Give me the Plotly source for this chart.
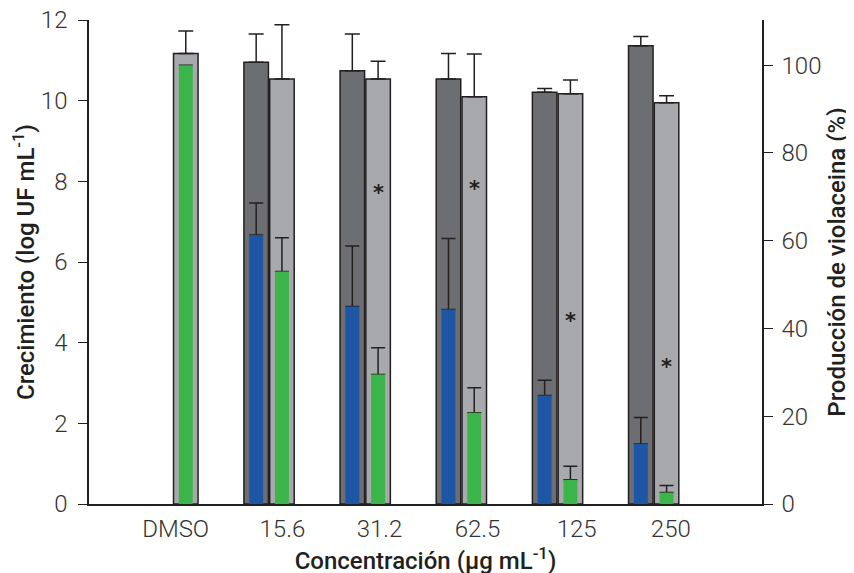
import plotly.graph_objects as go

categories = ["DMSO", "15.6", "31.2", "62.5", "125", "250"]
x_pos = [0, 1, 2, 3, 4, 5]
label_nudge = [0.03, 0.14, 0.15, 0.17, 0.2, 0.18]

growth_dark = [None, 10.95, 10.74, 10.54, 10.21, 11.36]
growth_dark_err = [None, 0.70, 0.91, 0.63, 0.09, 0.23]
growth_light = [11.17, 10.54, 10.54, 10.10, 10.17, 9.95]
growth_light_err = [0.56, 1.34, 0.44, 1.06, 0.34, 0.17]

viol_blue = [None, 61.3, 45.0, 44.3, 24.7, 13.7]
viol_blue_err = [None, 7.3, 13.8, 16.2, 3.5, 6.0]
viol_green = [100.0, 53.0, 29.5, 20.8, 5.5, 2.6]
viol_green_err = [None, 7.7, 6.1, 5.7, 3.1, 1.6]

sig_y = [None, None, 7.84, 7.94, 4.67, 3.53]

DARK = "#6d6e71"
LIGHT = "#a7a9ac"
BLUE = "#1d56a5"
GREEN = "#3bb54a"
INK = "#231f20"

fig = go.Figure()

err_style = dict(type="data", symmetric=False, color=INK, thickness=1.5, width=7.5)

fig.add_trace(go.Bar(
    x=x_pos, y=growth_dark, offset=-0.26, width=0.255, yaxis="y",
    marker=dict(color=DARK, line=dict(color=INK, width=1.5)),
    error_y=dict(array=growth_dark_err, arrayminus=[0]*6, **err_style),
    showlegend=False))
fig.add_trace(go.Bar(
    x=x_pos, y=growth_light, offset=0.008, width=0.255, yaxis="y",
    marker=dict(color=LIGHT, line=dict(color=INK, width=1.5)),
    error_y=dict(array=growth_light_err, arrayminus=[0]*6, **err_style),
    showlegend=False))

# error bars for violacein (drawn under the coloured bars)
err_small = dict(type="data", symmetric=False, color=INK, thickness=1.5, width=7)
fig.add_trace(go.Bar(
    x=x_pos, y=viol_blue, offset=-0.205, width=0.145, yaxis="y2",
    marker=dict(color="rgba(0,0,0,0)", line=dict(width=0)),
    error_y=dict(array=viol_blue_err, arrayminus=[0]*6, **err_small),
    showlegend=False, hoverinfo="skip"))
fig.add_trace(go.Bar(
    x=x_pos, y=viol_green, offset=0.063, width=0.145, yaxis="y2",
    marker=dict(color="rgba(0,0,0,0)", line=dict(width=0)),
    error_y=dict(array=viol_green_err, arrayminus=[0]*6, **err_small),
    showlegend=False, hoverinfo="skip"))

fig.add_trace(go.Bar(
    x=x_pos, y=viol_blue, offset=-0.205, width=0.145, yaxis="y3",
    marker=dict(color=BLUE, line=dict(width=0)), showlegend=False))
fig.add_trace(go.Bar(
    x=x_pos, y=viol_green, offset=0.063, width=0.145, yaxis="y3",
    marker=dict(color=GREEN, line=dict(width=0)), showlegend=False))

for xi, sy in zip(x_pos, sig_y):
    if sy is not None:
        fig.add_annotation(x=xi + 0.135, y=sy, xref="x", yref="y", text="<b>*</b>",
                           showarrow=False, font=dict(family="DejaVu Sans", size=21, color=INK),
                           yanchor="middle", yshift=-5)

tick_font = dict(family="Roboto", size=24, color="#333333", weight=300)
title_font = dict(family="Roboto", size=24, color=INK, weight=500)

fig.update_layout(
    width=854, height=573,
    margin=dict(l=81, r=100, t=12, b=77),
    paper_bgcolor="white", plot_bgcolor="white",
    barmode="overlay", showlegend=False,
    xaxis=dict(range=[-0.871, 6.128], automargin=False,
               tickvals=[x + d for x, d in zip(x_pos, label_nudge)], ticktext=categories,
               showline=True, linecolor=INK, linewidth=1.5, ticks="",
               showgrid=False, zeroline=False, tickfont=tick_font, ticklabelstandoff=2,
               title=dict(text="Concentración (μg mL<sup>-1</sup>)", font=title_font, standoff=0)),
    yaxis=dict(range=[0, 12], tickvals=[0, 2, 4, 6, 8, 10, 12], automargin=False,
               showline=True, linecolor=INK, linewidth=1.5, ticks="outside",
               ticklen=9, tickcolor=INK, tickwidth=1.2, showgrid=False, zeroline=False,
               tickfont=tick_font, ticklabelstandoff=6, ticklabeloverflow="allow",
               title=dict(text="Crecimiento (log UF mL<sup>-1</sup>)", font=title_font, standoff=8)),
    yaxis2=dict(range=[0, 110.3], tickvals=[0, 20, 40, 60, 80, 100], overlaying="y",
                side="right", showline=True, linecolor=INK, linewidth=1.5, automargin=False,
                ticks="outside", ticklen=9, tickcolor=INK, tickwidth=1.2,
                showgrid=False, zeroline=False, tickfont=tick_font, ticklabelstandoff=4,
                ticklabeloverflow="allow",
                title=dict(text="Producción de violaceina (%)", font=title_font, standoff=8)),
    yaxis3=dict(range=[0, 110.3], overlaying="y", visible=False),
)

fig.write_html("out.html")
